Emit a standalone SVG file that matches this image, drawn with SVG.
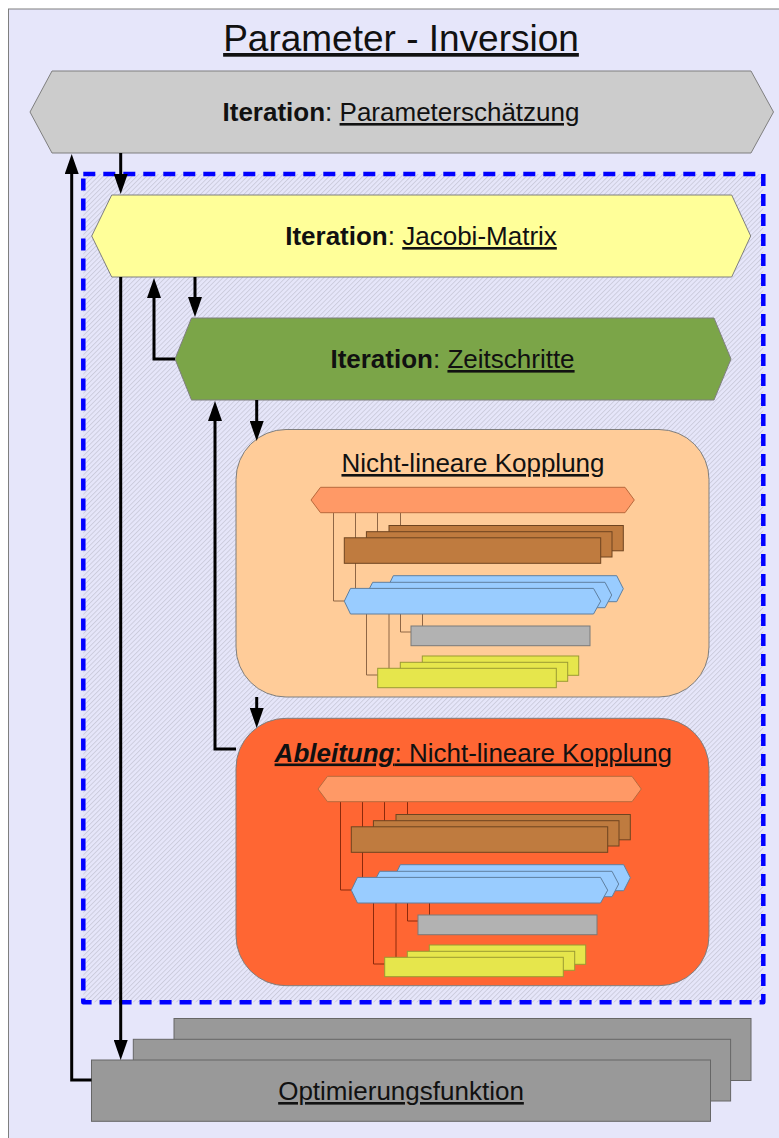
<svg xmlns="http://www.w3.org/2000/svg" xmlns:xlink="http://www.w3.org/1999/xlink" width="779" height="1138" viewBox="0 0 779 1138">
  <defs>
    <style>
      text { font-family: "Liberation Sans", Arial, sans-serif; fill: #111; }
      .title { font-size: 37px; text-anchor: middle; text-decoration: underline; }
      .label { font-size: 26px; text-anchor: middle; }
      .u { text-decoration: underline; }
      .b { font-weight: bold; }
      .node { stroke: #7f7f7f; stroke-width: 1; }
      .flow { fill: none; stroke: #000; stroke-width: 3; marker-end: url(#arrow); }
      .thin { fill: none; stroke: currentColor; stroke-width: 1; }
      .salmon { fill: #ff9966; stroke: #b8693d; stroke-width: 1; }
      .brown { fill: #bf7b3f; stroke: #6e4420; stroke-width: 1; }
      .blue { fill: #99ccff; stroke: #5f7f9f; stroke-width: 1; }
      .grey { fill: #b2b2b2; stroke: #7a7a7a; stroke-width: 1; }
      .lemon { fill: #e6e64c; stroke: #9a9a33; stroke-width: 1; }
      .sheet { fill: #999999; stroke: #666666; stroke-width: 1; }
    </style>
    <pattern id="hatch" patternUnits="userSpaceOnUse" width="3.4" height="3.4" patternTransform="rotate(45)">
      <rect width="3.4" height="3.4" fill="#e6e6fa"/>
      <line x1="0.5" y1="0" x2="0.5" y2="3.4" stroke="#c2c2d2" stroke-width="0.7"/>
    </pattern>
    <marker id="arrow" viewBox="0 0 20 14" markerWidth="20" markerHeight="14" refX="10" refY="7" orient="auto" markerUnits="userSpaceOnUse">
      <path d="M0,0 L20,7 L0,14 z" fill="#000"/>
    </marker>
    <!-- miniature of the coupled sub-solvers, reused in both coupling boxes -->
    <g id="coupling-detail">
      <path class="thin" d="M333.5 513 V601 H345 M355.5 513 V588 M377.5 513 V532 M400.5 513 V525.5 M366.5 614 V675 H378 M389 614 V668.5 M400.5 614 V632 H411 M422.5 614 V626"/>
      <polygon class="salmon" points="311,500 320.5,487.3 625,487.3 634.3,500 625,512.7 320.5,512.7"/>
      <rect class="brown" x="389" y="525.5" width="234.3" height="25.3"/>
      <rect class="brown" x="366.4" y="531.7" width="245.6" height="25.3"/>
      <rect class="brown" x="344.3" y="537.8" width="256.4" height="25.5"/>
      <polygon class="blue" points="387,588.7 393.3,575.7 616.7,575.7 623.3,588.7 616.7,601.7 393.3,601.7"/>
      <polygon class="blue" points="366,595 372.7,582.3 605,582.3 611.7,595 605,607.7 372.7,607.7"/>
      <polygon class="blue" points="344.3,601.2 350.5,588.4 593.5,588.4 600.7,601.2 593.5,614 350.5,614"/>
      <rect class="grey" x="411" y="626" width="179" height="19.7"/>
      <rect class="lemon" x="422.3" y="656" width="156.4" height="19.3"/>
      <rect class="lemon" x="400.3" y="662.3" width="167.4" height="19"/>
      <rect class="lemon" x="377.7" y="668.3" width="178.6" height="19.4"/>
    </g>
  </defs>

  <!-- frame and title -->
  <rect width="779" height="1138" fill="#ffffff"/>
  <rect x="8.5" y="9" width="790" height="1150" fill="#e6e6fa" stroke="#7f7f7f" stroke-width="1"/>
  <text class="title" x="401" y="51">Parameter - Inversion</text>

  <!-- dashed zone around the inner iterations -->
  <rect id="inner-zone" x="83.3" y="174" width="680" height="828.3" fill="url(#hatch)" stroke="#0000ff" stroke-width="4.5" stroke-dasharray="12 8" stroke-linejoin="round"/>

  <g id="parameter-estimation">
    <polygon class="node" fill="#cccccc" points="30,112 52,71 751,71 773.5,112 751,153 52,153"/>
    <text class="label" x="401" y="121"><tspan class="b">Iteration</tspan>: <tspan class="u">Parameterschätzung</tspan></text>
  </g>

  <g id="jacobi-matrix">
    <polygon class="node" fill="#ffff99" points="91.7,236 111.7,195 731.7,195 750.7,236 731.7,277 111.7,277"/>
    <text class="label" x="421" y="245"><tspan class="b">Iteration</tspan>: <tspan class="u">Jacobi-Matrix</tspan></text>
  </g>

  <g id="time-steps">
    <polygon class="node" fill="#7ba548" points="175,359 191.5,318 714,318 731,359 714,400 191.5,400"/>
    <text class="label" x="452.5" y="368"><tspan class="b">Iteration</tspan>: <tspan class="u">Zeitschritte</tspan></text>
  </g>

  <g id="nonlinear-coupling">
    <rect class="node" x="236" y="429.5" width="473" height="267.5" rx="50" ry="50" fill="#ffcc99"/>
    <text class="label u" x="473" y="472">Nicht-lineare Kopplung</text>
    <use xlink:href="#coupling-detail" href="#coupling-detail" style="color:#8f6645"/>
  </g>

  <g id="coupling-derivative">
    <rect class="node" x="236" y="718.3" width="473" height="267.4" rx="50" ry="50" fill="#ff6633"/>
    <text class="label u" x="473.3" y="761.5"><tspan class="b" font-style="italic">Ableitung</tspan>: Nicht-lineare Kopplung</text>
    <use xlink:href="#coupling-detail" href="#coupling-detail" transform="translate(7,289)" style="color:#8c2a0c"/>
  </g>

  <g id="objective-function">
    <rect class="sheet" x="174" y="1018.5" width="577" height="62"/>
    <rect class="sheet" x="133.3" y="1039.3" width="597.3" height="61.7"/>
    <rect class="sheet" x="91.5" y="1060" width="619" height="61.3"/>
    <text class="label u" x="401" y="1100">Optimierungsfunktion</text>
  </g>

  <g id="connectors">
    <path class="flow" d="M120.7 153 V184"/>
    <path class="flow" d="M91.5 1080 H71.7 V164"/>
    <path class="flow" d="M120.7 277 V1050"/>
    <path class="flow" d="M195 277 V307"/>
    <path class="flow" d="M175 359 H154 V288"/>
    <path class="flow" d="M256.7 400 V431"/>
    <path class="flow" d="M236 749 H215 V411"/>
    <path class="flow" d="M256.7 697 V718"/>
  </g>
</svg>
